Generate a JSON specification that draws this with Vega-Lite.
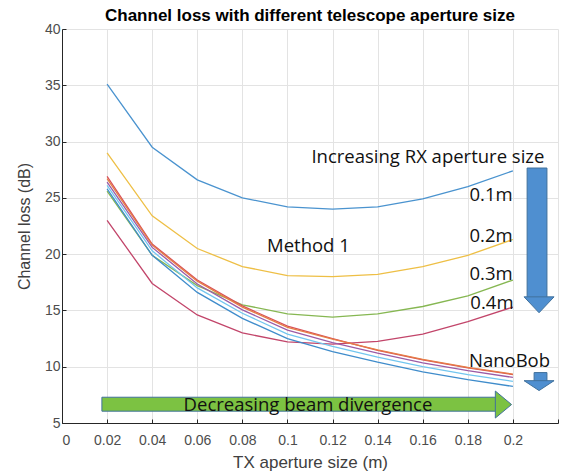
{
  "$schema": "https://vega.github.io/schema/vega-lite/v6.json",
  "width": 496,
  "height": 394,
  "autosize": "none",
  "padding": {"left": 62, "top": 29, "right": 4, "bottom": 52},
  "background": "white",
  "config": {"view": {"stroke": null}},
  "title": {"text": "Channel loss with different telescope aperture size", "font": "Liberation Sans", "fontSize": 17, "fontWeight": "bold", "color": "#000000", "anchor": "middle", "offset": -3},
  "datasets": {
    "curves": [
      {"series": "Method 1 0.1m", "x": 0.02, "loss": 35.1}, {"series": "Method 1 0.1m", "x": 0.04, "loss": 29.5}, {"series": "Method 1 0.1m", "x": 0.06, "loss": 26.6}, {"series": "Method 1 0.1m", "x": 0.08, "loss": 25.0}, {"series": "Method 1 0.1m", "x": 0.1, "loss": 24.2}, {"series": "Method 1 0.1m", "x": 0.12, "loss": 24.0}, {"series": "Method 1 0.1m", "x": 0.14, "loss": 24.2}, {"series": "Method 1 0.1m", "x": 0.16, "loss": 24.9}, {"series": "Method 1 0.1m", "x": 0.18, "loss": 26.0}, {"series": "Method 1 0.1m", "x": 0.2, "loss": 27.4},
      {"series": "Method 1 0.2m", "x": 0.02, "loss": 29.0}, {"series": "Method 1 0.2m", "x": 0.04, "loss": 23.4}, {"series": "Method 1 0.2m", "x": 0.06, "loss": 20.5}, {"series": "Method 1 0.2m", "x": 0.08, "loss": 18.9}, {"series": "Method 1 0.2m", "x": 0.1, "loss": 18.1}, {"series": "Method 1 0.2m", "x": 0.12, "loss": 18.0}, {"series": "Method 1 0.2m", "x": 0.14, "loss": 18.2}, {"series": "Method 1 0.2m", "x": 0.16, "loss": 18.9}, {"series": "Method 1 0.2m", "x": 0.18, "loss": 19.9}, {"series": "Method 1 0.2m", "x": 0.2, "loss": 21.3},
      {"series": "Method 1 0.3m", "x": 0.02, "loss": 25.6}, {"series": "Method 1 0.3m", "x": 0.04, "loss": 19.9}, {"series": "Method 1 0.3m", "x": 0.06, "loss": 17.2}, {"series": "Method 1 0.3m", "x": 0.08, "loss": 15.5}, {"series": "Method 1 0.3m", "x": 0.1, "loss": 14.7}, {"series": "Method 1 0.3m", "x": 0.12, "loss": 14.4}, {"series": "Method 1 0.3m", "x": 0.14, "loss": 14.7}, {"series": "Method 1 0.3m", "x": 0.16, "loss": 15.35}, {"series": "Method 1 0.3m", "x": 0.18, "loss": 16.3}, {"series": "Method 1 0.3m", "x": 0.2, "loss": 17.7},
      {"series": "Method 1 0.4m", "x": 0.02, "loss": 23.0}, {"series": "Method 1 0.4m", "x": 0.04, "loss": 17.4}, {"series": "Method 1 0.4m", "x": 0.06, "loss": 14.6}, {"series": "Method 1 0.4m", "x": 0.08, "loss": 13.0}, {"series": "Method 1 0.4m", "x": 0.1, "loss": 12.2}, {"series": "Method 1 0.4m", "x": 0.12, "loss": 12.0}, {"series": "Method 1 0.4m", "x": 0.14, "loss": 12.25}, {"series": "Method 1 0.4m", "x": 0.16, "loss": 12.9}, {"series": "Method 1 0.4m", "x": 0.18, "loss": 14.0}, {"series": "Method 1 0.4m", "x": 0.2, "loss": 15.3},
      {"series": "NanoBob red", "x": 0.02, "loss": 26.9}, {"series": "NanoBob red", "x": 0.04, "loss": 20.9}, {"series": "NanoBob red", "x": 0.06, "loss": 17.7}, {"series": "NanoBob red", "x": 0.08, "loss": 15.4}, {"series": "NanoBob red", "x": 0.1, "loss": 13.6}, {"series": "NanoBob red", "x": 0.12, "loss": 12.5}, {"series": "NanoBob red", "x": 0.14, "loss": 11.45}, {"series": "NanoBob red", "x": 0.16, "loss": 10.6}, {"series": "NanoBob red", "x": 0.18, "loss": 9.9}, {"series": "NanoBob red", "x": 0.2, "loss": 9.3},
      {"series": "NanoBob orange", "x": 0.02, "loss": 26.7}, {"series": "NanoBob orange", "x": 0.04, "loss": 20.8}, {"series": "NanoBob orange", "x": 0.06, "loss": 17.6}, {"series": "NanoBob orange", "x": 0.08, "loss": 15.3}, {"series": "NanoBob orange", "x": 0.1, "loss": 13.5}, {"series": "NanoBob orange", "x": 0.12, "loss": 12.45}, {"series": "NanoBob orange", "x": 0.14, "loss": 11.5}, {"series": "NanoBob orange", "x": 0.16, "loss": 10.65}, {"series": "NanoBob orange", "x": 0.18, "loss": 9.95}, {"series": "NanoBob orange", "x": 0.2, "loss": 9.35},
      {"series": "NanoBob purple", "x": 0.02, "loss": 26.4}, {"series": "NanoBob purple", "x": 0.04, "loss": 20.6}, {"series": "NanoBob purple", "x": 0.06, "loss": 17.35}, {"series": "NanoBob purple", "x": 0.08, "loss": 15.05}, {"series": "NanoBob purple", "x": 0.1, "loss": 13.25}, {"series": "NanoBob purple", "x": 0.12, "loss": 12.15}, {"series": "NanoBob purple", "x": 0.14, "loss": 11.2}, {"series": "NanoBob purple", "x": 0.16, "loss": 10.35}, {"series": "NanoBob purple", "x": 0.18, "loss": 9.65}, {"series": "NanoBob purple", "x": 0.2, "loss": 9.05},
      {"series": "NanoBob lightblue", "x": 0.02, "loss": 26.1}, {"series": "NanoBob lightblue", "x": 0.04, "loss": 20.3}, {"series": "NanoBob lightblue", "x": 0.06, "loss": 17.0}, {"series": "NanoBob lightblue", "x": 0.08, "loss": 14.75}, {"series": "NanoBob lightblue", "x": 0.1, "loss": 12.9}, {"series": "NanoBob lightblue", "x": 0.12, "loss": 11.8}, {"series": "NanoBob lightblue", "x": 0.14, "loss": 10.85}, {"series": "NanoBob lightblue", "x": 0.16, "loss": 10.0}, {"series": "NanoBob lightblue", "x": 0.18, "loss": 9.3}, {"series": "NanoBob lightblue", "x": 0.2, "loss": 8.7},
      {"series": "NanoBob blue", "x": 0.02, "loss": 25.8}, {"series": "NanoBob blue", "x": 0.04, "loss": 19.9}, {"series": "NanoBob blue", "x": 0.06, "loss": 16.6}, {"series": "NanoBob blue", "x": 0.08, "loss": 14.3}, {"series": "NanoBob blue", "x": 0.1, "loss": 12.5}, {"series": "NanoBob blue", "x": 0.12, "loss": 11.35}, {"series": "NanoBob blue", "x": 0.14, "loss": 10.4}, {"series": "NanoBob blue", "x": 0.16, "loss": 9.55}, {"series": "NanoBob blue", "x": 0.18, "loss": 8.85}, {"series": "NanoBob blue", "x": 0.2, "loss": 8.25}
    ],
    "shafts": [
      {"arrow": "rx", "x": 0.2063, "x2": 0.2151, "y": 27.65, "y2": 16.1},
      {"arrow": "nano", "x": 0.2094, "x2": 0.2151, "y": 9.48, "y2": 8.7},
      {"arrow": "beam", "x": 0.0177, "x2": 0.1925, "y": 7.29, "y2": 6.05}
    ],
    "heads": [
      {"arrow": "rx", "x": 0.2116, "y": 15.5},
      {"arrow": "nano", "x": 0.2116, "y": 8.32},
      {"arrow": "beam", "x": 0.1958, "y": 6.64}
    ],
    "notes": [
      {"label": "Increasing RX aperture size", "x": 0.1623, "y": 28.63},
      {"label": "0.1m", "x": 0.1903, "y": 25.26},
      {"label": "0.2m", "x": 0.1903, "y": 21.62},
      {"label": "0.3m", "x": 0.1903, "y": 18.25},
      {"label": "0.4m", "x": 0.1907, "y": 15.68},
      {"label": "NanoBob", "x": 0.1985, "y": 10.48},
      {"label": "Method 1", "x": 0.1093, "y": 20.74},
      {"label": "Decreasing beam divergence", "x": 0.1091, "y": 6.58}
    ]
  },
  "encoding": {
    "x": {"type": "quantitative", "scale": {"domain": [0, 0.22], "nice": false, "zero": false}},
    "y": {"type": "quantitative", "scale": {"domain": [5, 40], "nice": false, "zero": false}}
  },
  "layer": [
    {
      "data": {"name": "curves"},
      "mark": {"type": "line", "strokeWidth": 1.3, "clip": true},
      "encoding": {
        "x": {"field": "x", "type": "quantitative", "axis": {"title": "TX aperture size (m)", "values": [0, 0.02, 0.04, 0.06, 0.08, 0.1, 0.12, 0.14, 0.16, 0.18, 0.2, 0.22], "labelExpr": "datum.value > 0.21 ? '' : format(datum.value, '~g')", "grid": true, "gridColor": "#e3e3e3", "domainColor": "#262626", "tickColor": "#262626", "tickSize": -4, "labelPadding": 14, "labelFont": "Liberation Sans", "labelFontSize": 14, "labelColor": "#4d4d4d", "titleFont": "Liberation Sans", "titleFontSize": 17, "titleFontWeight": "normal", "titleColor": "#404040", "titlePadding": 7}},
        "y": {"field": "loss", "type": "quantitative", "axis": {"title": "Channel loss (dB)", "values": [5, 10, 15, 20, 25, 30, 35, 40], "grid": true, "gridColor": "#e3e3e3", "domainColor": "#262626", "tickColor": "#262626", "tickSize": -4, "labelPadding": 6, "labelFont": "Liberation Sans", "labelFontSize": 14, "labelColor": "#4d4d4d", "titleFont": "Liberation Sans", "titleFontSize": 16, "titleFontWeight": "normal", "titleColor": "#404040", "titlePadding": 12}},
        "color": {"field": "series", "type": "nominal", "legend": null, "scale": {
          "domain": ["Method 1 0.1m", "Method 1 0.2m", "Method 1 0.3m", "Method 1 0.4m", "NanoBob red", "NanoBob orange", "NanoBob purple", "NanoBob lightblue", "NanoBob blue"],
          "range": ["#4a93cf", "#eebf45", "#86b752", "#c2456a", "#d8505a", "#e57d45", "#9b5ba6", "#72c6ef", "#3f8ccb"]}}
      }
    },
    {
      "data": {"name": "shafts"},
      "mark": {"type": "rect", "stroke": "#41719c", "strokeWidth": 1},
      "encoding": {
        "x": {"field": "x", "type": "quantitative"},
        "x2": {"field": "x2"},
        "y": {"field": "y", "type": "quantitative"},
        "y2": {"field": "y2"},
        "fill": {"field": "arrow", "type": "nominal", "legend": null, "scale": {"domain": ["rx", "nano", "beam"], "range": ["#4f8fd0", "#4f8fd0", "#7cc242"]}}
      }
    },
    {
      "data": {"name": "heads"},
      "transform": [{"filter": "datum.arrow == 'rx'"}],
      "mark": {"type": "point", "filled": true, "fill": "#4f8fd0", "opacity": 1, "stroke": "#41719c", "strokeWidth": 1, "size": 900, "shape": "M-1,-0.53L1,-0.53L0,0.53Z"},
      "encoding": {"x": {"field": "x", "type": "quantitative"}, "y": {"field": "y", "type": "quantitative"}}
    },
    {
      "data": {"name": "heads"},
      "transform": [{"filter": "datum.arrow == 'nano'"}],
      "mark": {"type": "point", "filled": true, "fill": "#4f8fd0", "opacity": 1, "stroke": "#41719c", "strokeWidth": 1, "size": 900, "shape": "M-1,-0.33L1,-0.33L0,0.33Z"},
      "encoding": {"x": {"field": "x", "type": "quantitative"}, "y": {"field": "y", "type": "quantitative"}}
    },
    {
      "data": {"name": "heads"},
      "transform": [{"filter": "datum.arrow == 'beam'"}],
      "mark": {"type": "point", "filled": true, "fill": "#7cc242", "opacity": 1, "stroke": "#41719c", "strokeWidth": 1, "size": 729, "shape": "M-0.6,-1L0.6,0L-0.6,1Z"},
      "encoding": {"x": {"field": "x", "type": "quantitative"}, "y": {"field": "y", "type": "quantitative"}}
    },
    {
      "data": {"name": "notes"},
      "mark": {"type": "text", "font": "Open Sans", "fontSize": 18.5, "color": "#111111", "align": "center", "baseline": "middle"},
      "encoding": {"x": {"field": "x", "type": "quantitative"}, "y": {"field": "y", "type": "quantitative"}, "text": {"field": "label"}}
    }
  ]
}
